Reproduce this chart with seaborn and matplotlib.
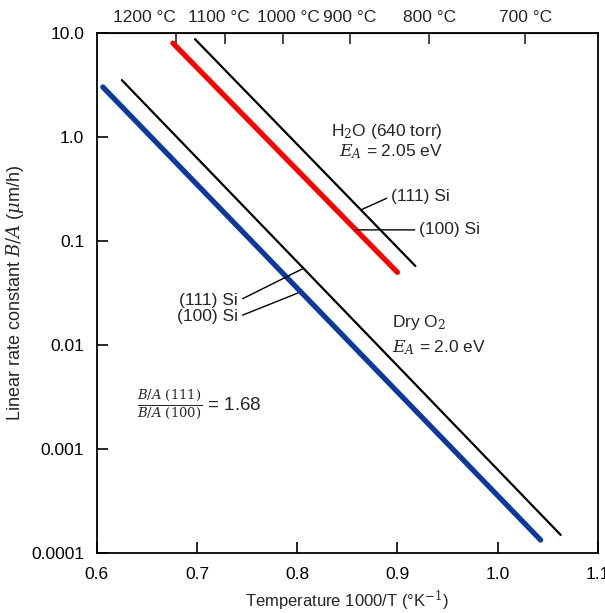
import numpy as np
import pandas as pd
import matplotlib
matplotlib.use('Agg')
import matplotlib.pyplot as plt
import matplotlib.transforms as mtransforms
import seaborn as sns

# endpoints (x = 1000/T, y = B/A in um/h)
h2o_111_x = [0.698, 0.918]
h2o_111_y = [8.75, 0.0575]
h2o_100_x = [0.676, 0.900]
h2o_100_y = [8.0, 0.050]
dry_111_x = [0.625, 1.063]
dry_111_y = [3.53, 0.000149]
dry_100_x = [0.606, 1.043]
dry_100_y = [3.03, 0.000133]

x_ticks = [0.6, 0.7, 0.8, 0.9, 1.0, 1.1]
x_tick_labels = ['0.6', '0.7', '0.8', '0.9', '1.0', '1.1']
y_ticks = [10, 1, 0.1, 0.01, 0.001, 0.0001]
y_tick_labels = ['10.0', '1.0', '0.1', '0.01', '0.001', '0.0001']
temps_c = [1200, 1100, 1000, 900, 800, 700]

sns.set_style('ticks')
plt.rcParams['font.family'] = ['Liberation Sans', 'DejaVu Sans']
plt.rcParams['mathtext.fontset'] = 'dejavuserif'

fig = plt.figure(figsize=(6.05, 6.13), dpi=100)
ax = fig.add_axes([0.160, 0.098, 0.828, 0.848])

lines = [
    (h2o_111_x, h2o_111_y, 'black', 1.6),
    (h2o_100_x, h2o_100_y, '#ff0000', 3.8),
    (dry_111_x, dry_111_y, 'black', 1.6),
    (dry_100_x, dry_100_y, '#0b3a9c', 3.8),
]
for xs, ys, col, lw in lines:
    df = pd.DataFrame({'x': xs, 'y': ys})
    sns.lineplot(data=df, x='x', y='y', color=col, lw=lw, ax=ax)

fs = 12.5
ax.set_yscale('log')
ax.set_xlim(0.6, 1.1)
ax.set_ylim(0.0001, 10)
ax.set_xticks(x_ticks, x_tick_labels)
ax.set_yticks(y_ticks, y_tick_labels)
ax.minorticks_off()
ax.tick_params(direction='in', length=8, width=1.2, labelsize=fs, colors='black')
ax.tick_params(axis='x', pad=10)
ax.tick_params(axis='y', pad=9)
for s in ax.spines.values():
    s.set_linewidth(1.3)
    s.set_color('black')

ax.set_xlabel('Temperature 1000/T (°K$^{-1}$)', fontsize=12, labelpad=5)
ax.set_ylabel('Linear rate constant $B/A$ ($\\mu$m/h)', fontsize=13, labelpad=4)

# top temperature axis
top = ax.secondary_xaxis('top')
top_pos = [1000.0 / (t + 273) for t in temps_c]
top.set_xticks(top_pos, ['%d °C' % t for t in temps_c])
top.tick_params(direction='in', length=8, width=1.2, labelsize=fs, pad=6)
top_labels = top.get_xticklabels()
top_labels[0].set_horizontalalignment('right')
for lab, dx in [(top_labels[1], -0.06), (top_labels[2], 0.06)]:
    lab.set_transform(lab.get_transform() +
                      mtransforms.ScaledTranslation(dx, 0, fig.dpi_scale_trans))

ax.text(0.834, 1.12, 'H$_2$O (640 torr)', fontsize=fs, va='center', ha='left')
ax.text(0.842, 0.72, '$E_A$ = 2.05 eV', fontsize=fs, va='center', ha='left')
ax.text(0.895, 0.0166, 'Dry O$_2$', fontsize=fs, va='center', ha='left')
ax.text(0.895, 0.00935, '$E_A$ = 2.0 eV', fontsize=fs, va='center', ha='left')
ax.text(0.640, 0.0027, r'$\frac{B/A\ (111)}{B/A\ (100)}$ = 1.68', fontsize=13.5,
        va='center', ha='left')

lead = dict(arrowstyle='-', color='black', lw=1.0, shrinkA=1, shrinkB=0)
ax.annotate('(111) Si', xy=(0.864, 0.2), xytext=(0.894, 0.27), fontsize=fs,
            va='center', ha='left', arrowprops=dict(lead, relpos=(0, 0.5)))
ax.annotate('(100) Si', xy=(0.859, 0.128), xytext=(0.922, 0.128), fontsize=fs,
            va='center', ha='left', arrowprops=dict(lead, relpos=(0, 0.5)))
ax.annotate('(111) Si', xy=(0.805, 0.0538), xytext=(0.741, 0.0265), fontsize=fs,
            va='center', ha='right', arrowprops=dict(lead, relpos=(1, 0.5)))
ax.annotate('(100) Si', xy=(0.8006, 0.0316), xytext=(0.741, 0.0186), fontsize=fs,
            va='center', ha='right', arrowprops=dict(lead, relpos=(1, 0.5)))

fig.savefig('out.png', dpi=100)
